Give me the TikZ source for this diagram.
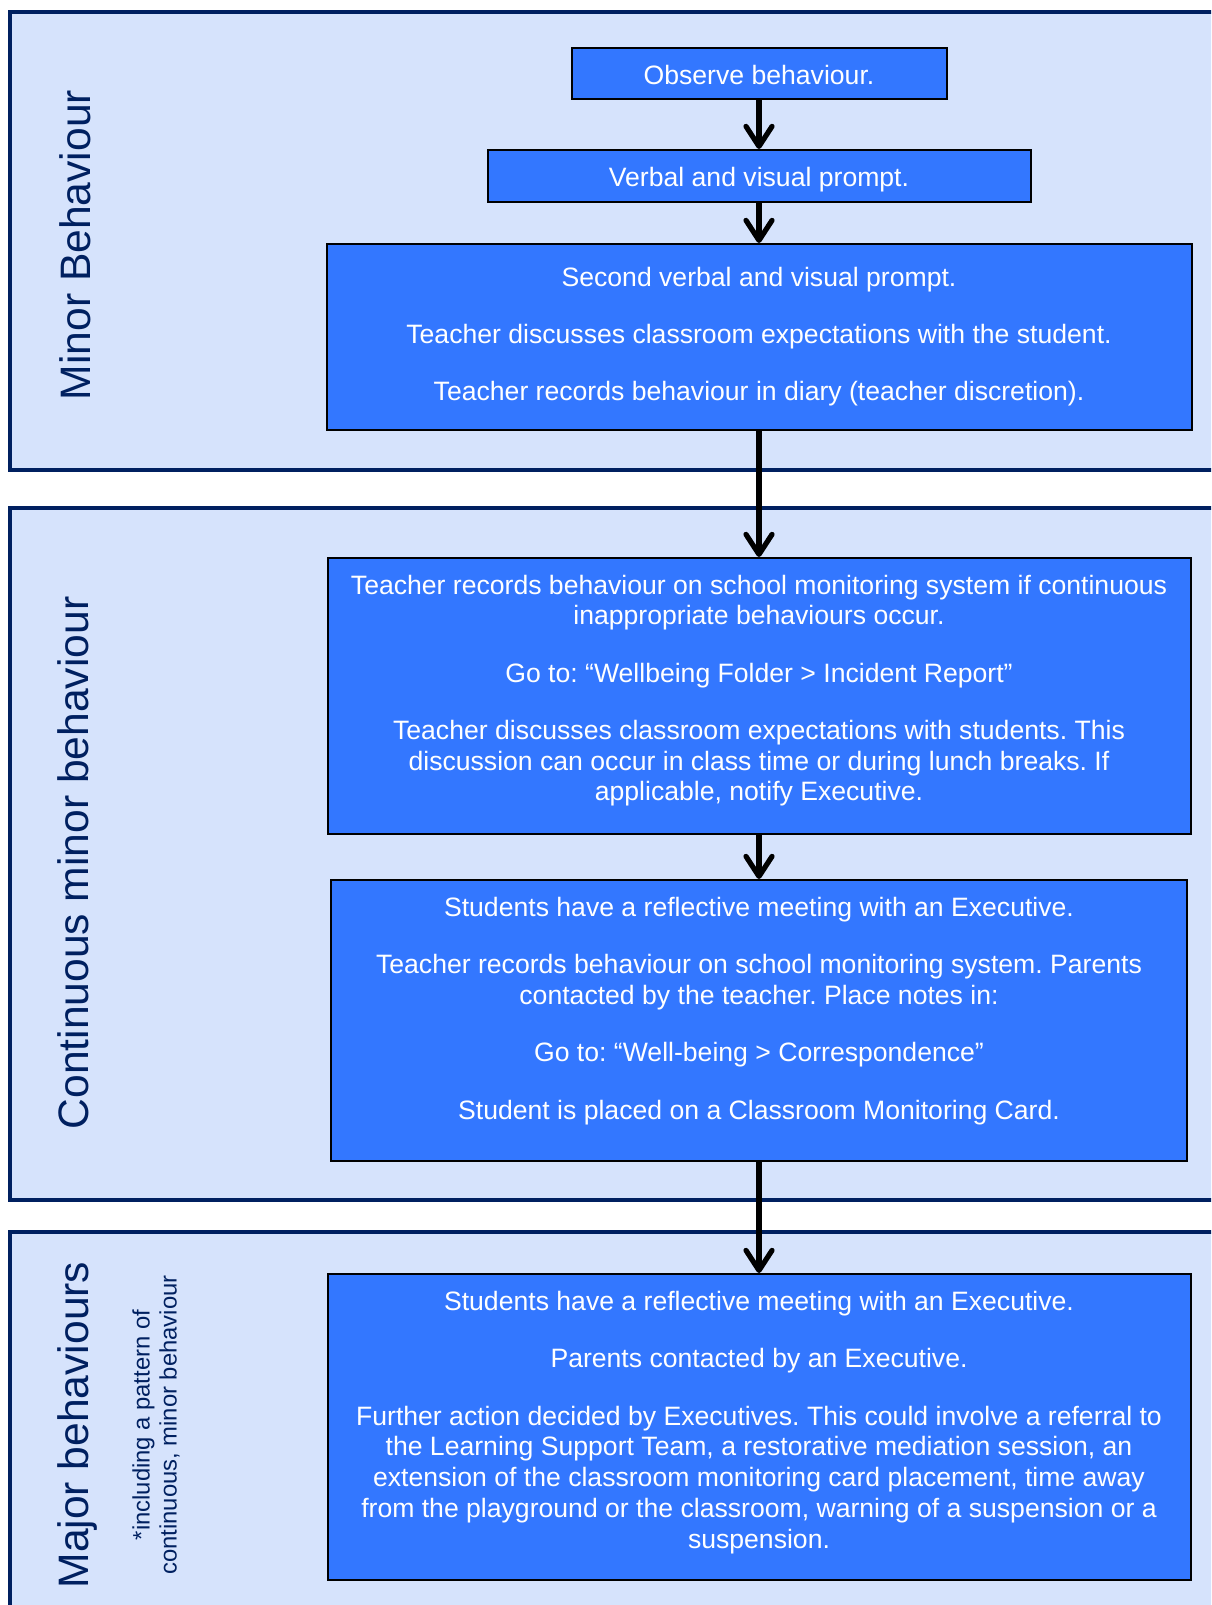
\documentclass[tikz,border=0pt]{standalone}
\usepackage{fontspec}
\setmainfont{Liberation Sans}
\usepackage{xcolor}
\usetikzlibrary{arrows.meta}
\usetikzlibrary{positioning}

\definecolor{panelfill}{RGB}{214,227,252}
\definecolor{panelline}{RGB}{0,32,96}
\definecolor{boxfill}{RGB}{51,119,255}

\tikzset{
    panel/.style={draw=panelline, line width=2pt, fill=panelfill},
    stepbox/.style={draw=black, line width=1pt, fill=boxfill, inner sep=0pt},
    boxtext/.style={text=white, align=center, inner sep=0pt, font=\fontsize{13.3}{15.35}\selectfont\frenchspacing},
    oneline/.style={text height=11pt, text depth=0pt},
    sidelabel/.style={text=panelline, rotate=90, anchor=base, inner sep=0pt, font=\fontsize{21.3}{25}\selectfont},
    flow/.style={line width=2.6pt, -{Straight Barb[length=10pt,width=13pt,round]}}
}

\begin{document}
\begin{tikzpicture}[x=0.5pt,y=-0.5pt]
    \useasboundingbox (0,0) rectangle (1211,1605);
    \clip (0,0) rectangle (1211,1605);

    \draw[panel] (10,12) rectangle (1240,470);
    \draw[panel] (10,508) rectangle (1240,1200);
    \draw[panel] (10,1232) rectangle (1240,1640);

    \node[sidelabel] (minorlabel) at (90,245) {Minor Behaviour};
    \node[sidelabel] (contlabel) at (88,863) {Continuous minor behaviour};
    \node[sidelabel] (majorlabel) at (88,1425) {Major behaviours};
    \node[text=panelline, rotate=90, align=center, inner sep=0pt, font=\fontsize{11.9}{13.5}\selectfont] (patternlabel) at (156,1425) {*including a pattern of\\continuous, minor behaviour};

    \node[stepbox, boxtext, oneline, minimum width=187.5pt, minimum height=25.5pt] (observe) at (759,73.5) {Observe behaviour.};
    \node[stepbox, boxtext, oneline, minimum width=271.5pt, minimum height=26pt] (verbal) at (759,176) {Verbal and visual prompt.};

    \node[stepbox, minimum width=432.5pt, minimum height=93pt] (second) at (759,337) {};
    \node[boxtext, below=11.8pt of second.north] (secondtext) {Second verbal and visual prompt.\\[13.3pt]Teacher discusses classroom expectations with the student.\\[13.3pt]Teacher records behaviour in diary (teacher discretion).};

    \node[stepbox, minimum width=431.5pt, minimum height=138pt] (record) at (759,696) {};
    \node[boxtext, below=8.8pt of record.north] (recordtext) {Teacher records behaviour on school monitoring system if continuous\\inappropriate behaviours occur.\\[13.3pt]Go to: “Wellbeing Folder > Incident Report”\\[13.3pt]Teacher discusses classroom expectations with students. This\\discussion can occur in class time or during lunch breaks. If\\applicable, notify Executive.};

    \node[stepbox, minimum width=428pt, minimum height=140.5pt] (meeting) at (759,1020.5) {};
    \node[boxtext, below=9pt of meeting.north] (meetingtext) {Students have a reflective meeting with an Executive.\\[13.3pt]Teacher records behaviour on school monitoring system. Parents\\contacted by the teacher. Place notes in:\\[13.3pt]Go to: “Well-being > Correspondence”\\[13.3pt]Student is placed on a Classroom Monitoring Card.};

    \node[stepbox, minimum width=431.5pt, minimum height=153pt] (action) at (759,1427) {};
    \node[boxtext, below=9pt of action.north] (actiontext) {Students have a reflective meeting with an Executive.\\[13.3pt]Parents contacted by an Executive.\\[13.3pt]Further action decided by Executives. This could involve a referral to\\the Learning Support Team, a restorative mediation session, an\\extension of the classroom monitoring card placement, time away\\from the playground or the classroom, warning of a suspension or a\\suspension.};

    \draw[flow] (observe) -- (verbal);
    \draw[flow] (verbal) -- (second);
    \draw[flow] (second) -- (record);
    \draw[flow] (record) -- (meeting);
    \draw[flow] (meeting) -- (action);
\end{tikzpicture}
\end{document}
